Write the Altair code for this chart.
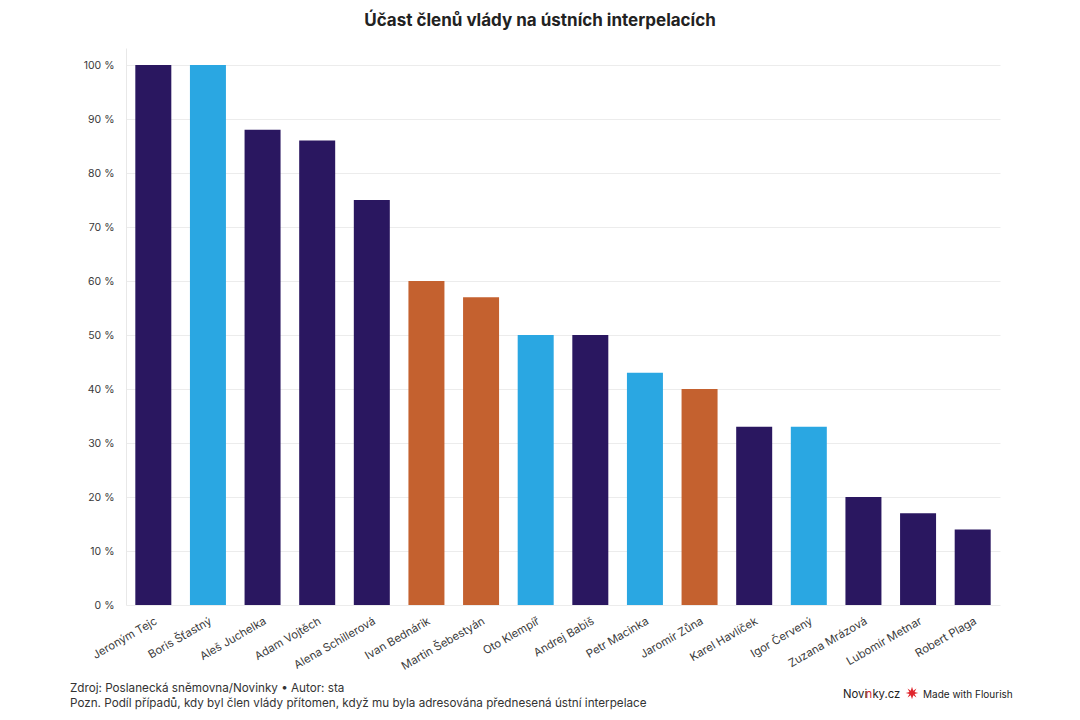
import altair as alt
import pandas as pd

names = ["Jeroným Tejc", "Boris Šťastný", "Aleš Juchelka", "Adam Vojtěch", "Alena Schillerová",
         "Ivan Bednárik", "Martin Šebestyán", "Oto Klempíř", "Andrej Babiš", "Petr Macinka",
         "Jaromír Zůna", "Karel Havlíček", "Igor Červený", "Zuzana Mrázová", "Lubomír Metnar",
         "Robert Plaga"]
values = [100, 100, 88, 86, 75, 60, 57, 50, 50, 43, 40, 33, 33, 20, 17, 14]
groups = ["ANO", "Motoristé", "ANO", "ANO", "ANO", "SPD", "SPD", "Motoristé", "ANO",
          "Motoristé", "SPD", "ANO", "Motoristé", "ANO", "ANO", "ANO"]
group_names = ["ANO", "Motoristé", "SPD"]
group_colors = ["#2a1760", "#2aa7e2", "#c4612f"]
y_ticks = [0, 10, 20, 30, 40, 50, 60, 70, 80, 90, 100]

title_text = "Účast členů vlády na ústních interpelacích"
source_text = "Zdroj: Poslanecká sněmovna/Novinky • Autor: sta"
note_text = "Pozn. Podíl případů, kdy byl člen vlády přítomen, když mu byla adresována přednesená ústní interpelace"

df = pd.DataFrame({"name": names, "value": values, "group": groups})

FONT = "Inter"

bars = alt.Chart(df).mark_bar(width=36).encode(
    x=alt.X("name:N", sort=names, title=None,
            axis=alt.Axis(labelAngle=-30, labelAlign="right", labelBaseline="top",
                          ticks=False, domain=False, labelPadding=10, labelFontSize=11.3,
                          labelColor="#3a3a3a", labelFont=FONT)),
    y=alt.Y("value:Q", title=None,
            scale=alt.Scale(domain=[0, 103.15], nice=False),
            axis=alt.Axis(values=y_ticks, labelExpr="datum.value + ' %'", ticks=False,
                          labelPadding=12, labelFontSize=10.5, labelColor="#3a3a3a",
                          labelFont=FONT, grid=True, gridColor="#ececec",
                          domain=True, domainColor="#e8e8e8")),
    color=alt.Color("group:N", scale=alt.Scale(domain=group_names, range=group_colors),
                    legend=None),
)

def txt(text, x, y, size=13, weight="normal", color="#333", align="left"):
    return alt.Chart(pd.DataFrame({"t": [text]})).mark_text(
        align=align, baseline="alphabetic", fontSize=size, fontWeight=weight,
        color=color, font=FONT
    ).encode(text="t:N", x=alt.value(x), y=alt.value(y))

title = txt(title_text, 414, -22, size=17, weight="bold", color="#222", align="center")
src = txt(source_text, -56, 644, size=11.7)
note = txt(note_text, -56, 659, size=11.7)
logo1 = txt("Novi", 717, 650, size=11.3, color="#222")
logo2 = txt("n", 739.6, 650, size=11.3, color="#d0262d")
logo3 = txt("ky.cz", 746.4, 650, size=11.3, color="#222")
logo4 = txt("Made with Flourish", 797, 650, size=10, color="#222")
star = alt.Chart(pd.DataFrame({"a": [0]})).mark_point(
    shape="M0,-1L0.2,-0.35L0.7,-0.7L0.4,-0.15L1,0L0.4,0.15L0.7,0.7L0.2,0.35L0,1L-0.2,0.35L-0.7,0.7L-0.4,0.15L-1,0L-0.4,-0.15L-0.7,-0.7L-0.2,-0.35Z",
    filled=True, color="#e0262d", size=160, opacity=1
).encode(x=alt.value(786), y=alt.value(645))

chart = alt.layer(bars, title, src, note, logo1, logo2, logo3, logo4, star).properties(
    width=874, height=557,
    autosize=alt.AutoSizeParams(type="none"),
    padding={"left": 118, "top": 40, "right": 72, "bottom": 107},
    background="white",
).configure_view(stroke=None)

chart.save("out.html", embed_options={"renderer": "svg", "actions": False})
